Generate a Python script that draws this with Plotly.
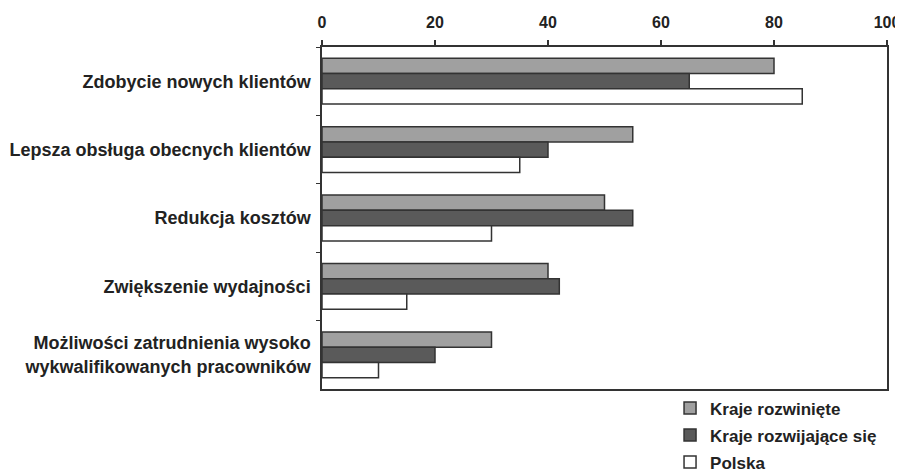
import plotly.graph_objects as go

categories = [
    "Zdobycie nowych klientów",
    "Lepsza obsługa obecnych klientów",
    "Redukcja kosztów",
    "Zwiększenie wydajności",
    "Możliwości zatrudnienia wysoko<br>wykwalifikowanych pracowników",
]
series_names = ["Kraje rozwinięte", "Kraje rozwijające się", "Polska"]
developed = [80, 55, 50, 40, 30]
developing = [65, 40, 55, 42, 20]
poland = [85, 35, 30, 15, 10]
x_ticks = [0, 20, 40, 60, 80, 100]

colors = ["#a0a0a0", "#5a5a5a", "#ffffff"]
values = [developed, developing, poland]

fig = go.Figure()
for i, (name, vals) in enumerate(zip(series_names, values)):
    fig.add_trace(go.Bar(
        y=categories, x=vals, name=name, orientation="h",
        marker=dict(color=colors[i], line=dict(color="#333333", width=1.5)),
        legendgroup=f"g{i}",
    ))

font = "Liberation Sans, Arial, sans-serif"
# page body has an 8px default margin, so the figure is 8px smaller
fig.update_layout(
    width=895, height=466,
    margin=dict(l=314, r=16, t=39, b=85, autoexpand=False),
    paper_bgcolor="white", plot_bgcolor="white",
    barmode="group", bargap=0.33, bargroupgap=0,
    font=dict(family=font, size=18, color="#222222"),
    showlegend=True,
    legend=dict(
        x=0.616, y=-0.004, xanchor="left", yanchor="top",
        traceorder="grouped", tracegroupgap=2,
        font=dict(family=font, size=17, color="#222222", weight="bold"),
        bgcolor="rgba(0,0,0,0)", itemwidth=30,
    ),
    xaxis=dict(
        side="top", range=[0, 100], tickvals=x_ticks, automargin=False,
        showgrid=False, zeroline=False,
        showline=True, linecolor="#333333", linewidth=1.5, mirror=True,
        ticks="outside", ticklen=5, tickcolor="#333333", tickwidth=1.5,
        tickfont=dict(family=font, size=16, color="#222222", weight="bold"),
        ticklabelstandoff=6,
    ),
    yaxis=dict(
        autorange="reversed", showgrid=False, automargin=False,
        showline=True, linecolor="#333333", linewidth=1.5, mirror=True,
        ticks="outside", ticklen=4, tickcolor="#333333", tickson="boundaries",
        tickfont=dict(family=font, size=18, color="#222222", weight="bold"),
        ticklabelstandoff=6,
    ),
)

fig.write_html("out.html")
